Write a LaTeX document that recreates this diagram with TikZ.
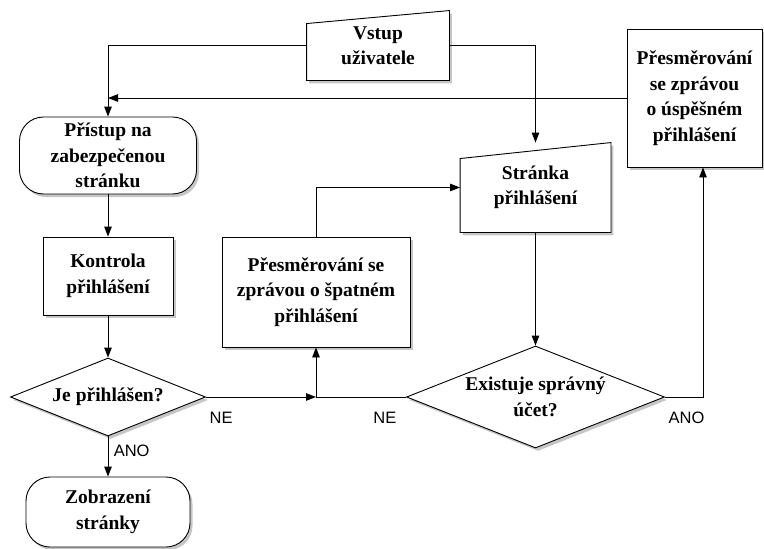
\documentclass[tikz,border=0pt]{standalone}
\usepackage{fontspec}
\setmainfont{Liberation Serif}
\newfontfamily\lblfont{Liberation Sans}
\usetikzlibrary{positioning,shapes.geometric,arrows.meta,shadows,backgrounds}

\begin{document}
\begin{tikzpicture}[
    x=1pt, y=-1pt,
    line width=0.9pt,
    font=\fontsize{19.5}{25.5}\selectfont\bfseries,
    every node/.style={align=center},
    shade/.style={drop shadow={opacity=0.45,shadow xshift=2.5pt,shadow yshift=-3pt}},
    proc/.style={draw,fill=white,shade,inner sep=2pt},
    term/.style={proc,rounded corners=24pt},
    inputbox/.style={inner sep=2pt},
    manual/.style={draw,fill=white,line width=0.9pt,shade},
    decision/.style={draw,fill=white,shade,diamond,aspect=2.5,inner sep=0pt},
    lbl/.style={font=\lblfont\mdseries\fontsize{16.5}{18}\selectfont},
    arr/.style={draw,-{Triangle[length=10pt,width=7.5pt]}}
]
    \useasboundingbox (0,0) rectangle (764,549);

    % left column
    \node[term, minimum width=177pt, minimum height=77pt] (A) at (108,155.5) {Přístup na\\zabezpečenou\\stránku};
    \node[proc, minimum width=130pt, minimum height=78pt] (K) at (108,276) {Kontrola\\přihlášení};
    \node[decision, minimum width=195pt, minimum height=78pt] (J) at (108,397) {Je přihlášen?};
    \node[term, minimum width=164pt, minimum height=70pt] (Z) at (108,512) {Zobrazení\\stránky};

    % middle and right
    \node[inputbox, minimum width=142pt, minimum height=69pt] (V) at (378,45.5) {Vstup\\uživatele};
    \node[proc, minimum width=188pt, minimum height=110pt] (B) at (316,292) {Přesměrování se\\zprávou o špatném\\přihlášení};
    \node[inputbox, minimum width=150pt, minimum height=89pt] (T) at (535.5,187.5) {Stránka\\přihlášení};
    \node[decision, minimum width=258pt, minimum height=102pt] (E) at (535.5,397) {Existuje správný\\účet?};
    \node[proc, minimum width=135pt, minimum height=138pt] (S) at (694.5,98) {Přesměrování\\se zprávou\\o úspěšném\\přihlášení};

    % manual input outlines
    \begin{scope}[on background layer]
        \path[manual] (V.south west) -- ([yshift=-13pt]V.north west) -- (V.north east) -- (V.south east) -- cycle;
        \path[manual] (T.south west) -- ([yshift=-16pt]T.north west) -- (T.north east) -- (T.south east) -- cycle;
    \end{scope}

    % connections
    \coordinate (back) at (A.north |- S.west);
    \coordinate (join) at (B.south |- J.east);
    \draw[arr] (V.west) -| (A.north);
    \draw[arr] (V.east) -| (T.north);
    \draw[arr] (S.west) -- (back);
    \draw[arr] (A) -- (K);
    \draw[arr] (K) -- (J);
    \draw[arr] (J) -- node[lbl, right=2pt, pos=0.35] (ano1) {ANO} (Z);
    \draw[arr] (J.east) -- node[lbl, below right=11pt and 0pt, pos=0] (ne1) {NE} (join);
    \draw[arr] (E.west) -- node[lbl, below left=11pt and 6pt, pos=0] (ne2) {NE} (join) -- (B.south);
    \draw[arr] (B.north) |- (T.west);
    \draw[arr] (T) -- (E);
    \draw[arr] (E.east) -| node[lbl, below right=11pt and 0pt, pos=0] (ano2) {ANO} ([xshift=8.5pt]S.south);
\end{tikzpicture}
\end{document}
